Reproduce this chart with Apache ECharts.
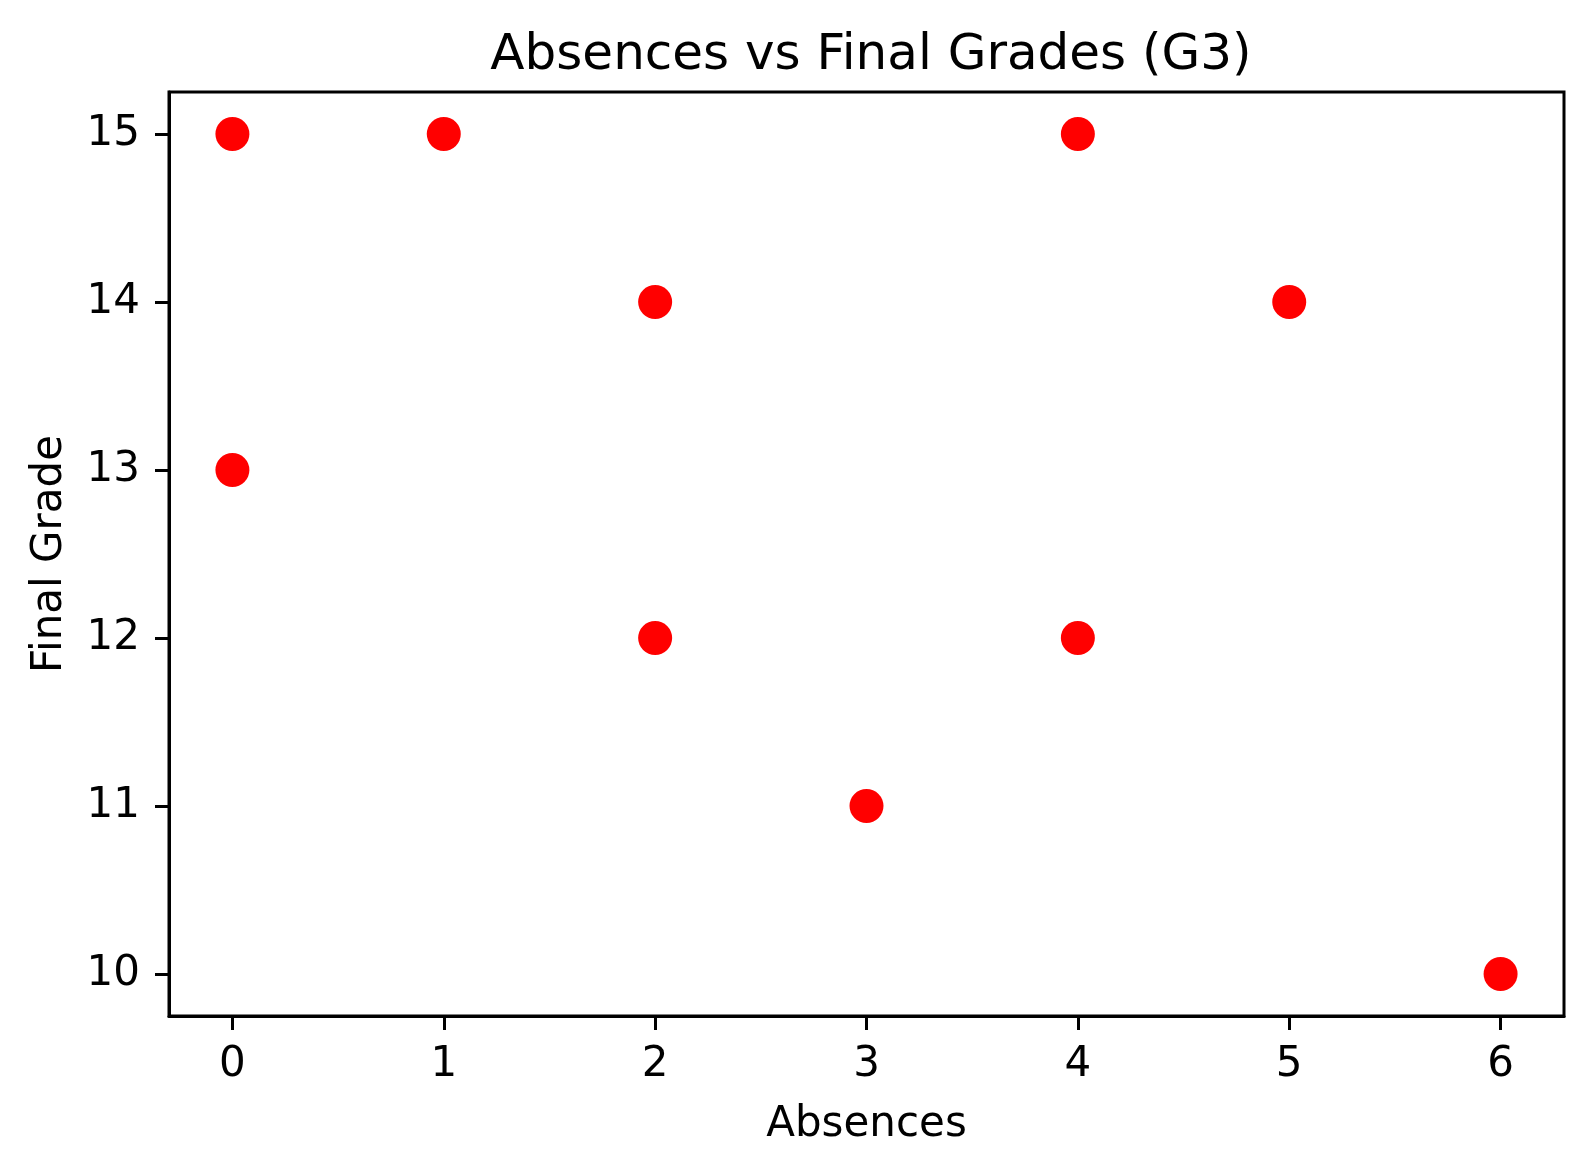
<!DOCTYPE html>
<html>
<head>
<meta charset="utf-8">
<script src="https://cdn.jsdelivr.net/npm/echarts@6/dist/echarts.min.js"></script>
<style>
  html, body { margin: 0; padding: 0; background: #fff; }
  #chart { width: 1593px; height: 1172px; }
</style>
</head>
<body>
<div id="chart"></div>
<script>
const absences = [0, 1, 4, 2, 5, 0, 2, 4, 3, 6]
const grades = [15, 15, 15, 14, 14, 13, 12, 12, 11, 10]
const xTicks = [0, 1, 2, 3, 4, 5, 6]
const yTicks = [10, 11, 12, 13, 14, 15]

const chart = echarts.init(document.getElementById('chart'))
const font = 'DejaVu Sans'

const axisLine = { show: true, onZero: false, lineStyle: { color: '#000', width: 3 } }

const option = {
  backgroundColor: '#fff',
  animation: false,
  title: {
    text: 'Absences vs Final Grades (G3)',
    left: 866,
    textAlign: 'center',
    top: 26,
    textStyle: { fontFamily: font, fontSize: 50, fontWeight: 'normal', color: '#000' }
  },
  grid: {
    left: 169,
    right: 29,
    top: 92,
    bottom: 156,
    show: true,
    borderColor: '#000',
    borderWidth: 3,
    backgroundColor: 'transparent'
  },
  xAxis: {
    type: 'value',
    min: -0.3,
    max: 6.3,
    name: 'Absences',
    nameLocation: 'middle',
    nameGap: 88,
    nameTextStyle: { fontFamily: font, fontSize: 42, color: '#000' },
    splitLine: { show: false },
    axisLine: axisLine,
    axisTick: { show: true, length: 14, lineStyle: { color: '#000', width: 3 }, customValues: xTicks },
    axisLabel: { fontFamily: font, fontSize: 42, color: '#000', margin: 28, customValues: xTicks }
  },
  yAxis: {
    type: 'value',
    min: 9.75,
    max: 15.25,
    name: 'Final Grade',
    nameLocation: 'middle',
    nameGap: 98,
    nameTextStyle: { fontFamily: font, fontSize: 42, color: '#000' },
    splitLine: { show: false },
    axisLine: axisLine,
    axisTick: { show: true, length: 14, lineStyle: { color: '#000', width: 3 }, customValues: yTicks },
    axisLabel: { fontFamily: font, fontSize: 42, color: '#000', margin: 29, customValues: yTicks }
  },
  series: [
    {
      type: 'scatter',
      symbolSize: 34,
      itemStyle: { color: '#ff0000', opacity: 1 },
      data: absences.map((a, i) => [a, grades[i]])
    }
  ]
}

chart.setOption(option)
</script>
</body>
</html>
